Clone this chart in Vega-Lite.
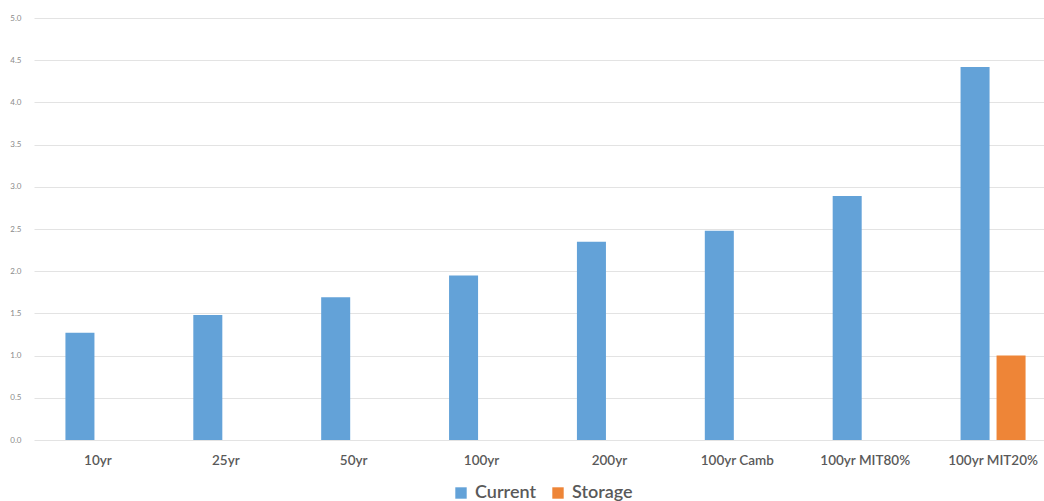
{
  "$schema": "https://vega.github.io/schema/vega-lite/v6.json",
  "autosize": {"type": "none"},
  "width": 1010,
  "height": 422,
  "padding": {"left": 34, "top": 18, "right": 0, "bottom": 61},
  "background": "#ffffff",
  "data": {
    "values": [
      {"scenario": "10yr", "series": "Current", "value": 1.27},
      {"scenario": "25yr", "series": "Current", "value": 1.48},
      {"scenario": "50yr", "series": "Current", "value": 1.69},
      {"scenario": "100yr", "series": "Current", "value": 1.95},
      {"scenario": "200yr", "series": "Current", "value": 2.35},
      {"scenario": "100yr Camb", "series": "Current", "value": 2.48},
      {"scenario": "100yr MIT80%", "series": "Current", "value": 2.89},
      {"scenario": "100yr MIT20%", "series": "Current", "value": 4.42},
      {"scenario": "100yr MIT20%", "series": "Storage", "value": 1.0}
    ]
  },
  "mark": {"type": "bar"},
  "encoding": {
    "x": {
      "field": "scenario",
      "type": "nominal",
      "sort": null,
      "title": null,
      "scale": {"paddingInner": 0.4916, "paddingOuter": 0.2458, "range": [0, 1023]},
      "axis": {
        "domain": false,
        "ticks": false,
        "labelAngle": 0,
        "labelFont": "Lato",
        "labelFontSize": 13.5,
        "labelFontWeight": 600,
        "labelColor": "#595959",
        "labelPadding": 13
      }
    },
    "xOffset": {
      "field": "series",
      "type": "nominal",
      "sort": ["Current", "Storage"],
      "scale": {"paddingInner": 0.194, "paddingOuter": 0}
    },
    "y": {
      "field": "value",
      "type": "quantitative",
      "title": null,
      "scale": {"domain": [0, 5], "nice": false},
      "axis": {
        "values": [0, 0.5, 1, 1.5, 2, 2.5, 3, 3.5, 4, 4.5, 5],
        "format": ".1f",
        "domain": false,
        "ticks": false,
        "grid": true,
        "gridColor": "#e3e3e3",
        "gridWidth": 1,
        "labelFont": "Lato",
        "labelFontSize": 8,
        "labelColor": "#8a8a8a",
        "labelPadding": 13
      }
    },
    "color": {
      "field": "series",
      "type": "nominal",
      "title": null,
      "scale": {"domain": ["Current", "Storage"], "range": ["#63A2D8", "#EE8537"]},
      "legend": {
        "orient": "none",
        "direction": "horizontal",
        "legendX": 418,
        "legendY": 466,
        "symbolType": "square",
        "symbolSize": 130,
        "symbolStrokeWidth": 0,
        "labelFont": "Lato",
        "labelFontSize": 18,
        "labelFontWeight": 600,
        "labelColor": "#595959",
        "columnPadding": 12,
        "labelOffset": 5
      }
    }
  },
  "config": {
    "view": {"stroke": null}
  }
}
